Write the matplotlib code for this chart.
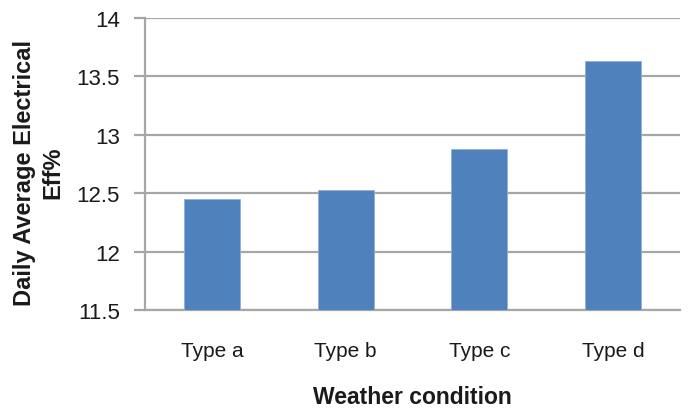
import matplotlib.pyplot as plt

# Daily average electrical efficiency by weather condition
categories = ["Type a", "Type b", "Type c", "Type d"]
efficiency = [12.45, 12.53, 12.88, 13.63]
y_ticks = [11.5, 12, 12.5, 13, 13.5, 14]
y_tick_labels = ["11.5", "12", "12.5", "13", "13.5", "14"]

BAR_BLUE = "#4f81bd"
GRID_GREY = "#a6a6a6"
TEXT = "#1a1a1a"

plt.rcParams["font.family"] = ["Liberation Sans", "DejaVu Sans"]

fig = plt.figure(figsize=(6.92, 4.10), dpi=100)
ax = fig.add_axes([0.2095, 0.2415, 0.7732, 0.7122])

x = range(len(categories))
ax.bar(x, efficiency, width=0.42, color=BAR_BLUE, edgecolor="#8fb0d8",
       linewidth=0.6, zorder=3)

ax.set_xlim(-0.5, len(categories) - 0.5)
ax.set_ylim(11.5, 14)
ax.set_yticks(y_ticks)
ax.set_yticklabels(y_tick_labels)
ax.set_xticks(list(x))
ax.set_xticklabels(categories)

ax.grid(axis="y", color=GRID_GREY, linewidth=1.6, zorder=0)
for side in ["top", "right"]:
    ax.spines[side].set_visible(False)
for side in ["left", "bottom"]:
    ax.spines[side].set_color(GRID_GREY)
    ax.spines[side].set_linewidth(1.6)

ax.tick_params(axis="y", length=8, width=1.6, color=GRID_GREY,
               labelsize=16, labelcolor=TEXT, pad=10)
ax.tick_params(axis="x", length=0, labelsize=15, labelcolor=TEXT, pad=22)

ax.set_xlabel("Weather condition", fontsize=16.5, fontweight="bold",
              color=TEXT, labelpad=18)
ax.set_ylabel("Daily Average Electrical\nEff%", fontsize=17, fontweight="bold",
              color=TEXT, linespacing=1.3)
ax.yaxis.set_label_coords(-0.150, 0.473)

fig.savefig("out.png", dpi=100, facecolor="white")
